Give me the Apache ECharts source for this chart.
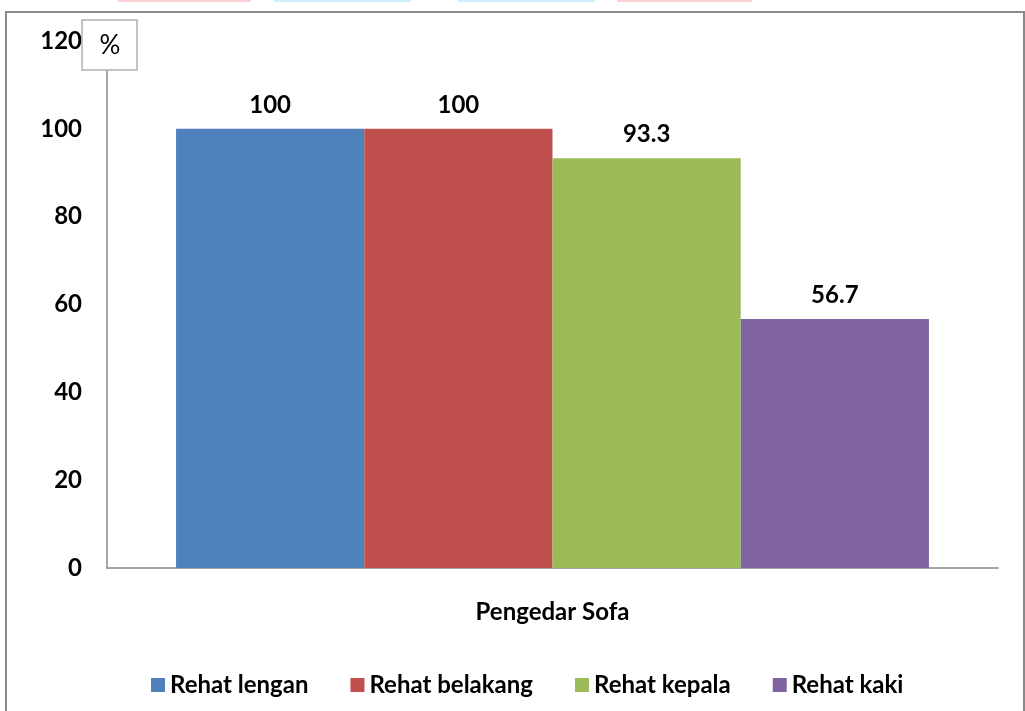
<!DOCTYPE html>
<html>
<head>
<meta charset="utf-8">
<style>
  html, body { margin: 0; padding: 0; background: #fff; }
  #chart { width: 1025px; height: 711px; }
</style>
<script src="https://cdn.jsdelivr.net/npm/echarts@6/dist/echarts.min.js"></script>
</head>
<body>
<div id="chart"></div>
<script>
// Category and series values
const categories = ['Pengedar Sofa'];
const seriesNames = ['Rehat lengan', 'Rehat belakang', 'Rehat kepala', 'Rehat kaki'];
const rehatLengan = [100];
const rehatBelakang = [100];
const rehatKepala = [93.3];
const rehatKaki = [56.7];
const yTicks = { min: 0, max: 120, interval: 20 };

const seriesValues = [rehatLengan, rehatBelakang, rehatKepala, rehatKaki];
const colors = ['#4F81BD', '#C0504D', '#9BBB59', '#8064A2'];
const FONT = 'Lato, "Open Sans", sans-serif';
const FS = 24;

const chart = echarts.init(document.getElementById('chart'));

chart.setOption({
  animation: false,
  backgroundColor: '#fff',
  color: colors,
  textStyle: { fontFamily: FONT },
  grid: { left: 107, right: 27, top: 41, bottom: 143 },
  legend: {
    top: 668,
    left: 146,
    itemWidth: 14,
    itemHeight: 14,
    itemGap: 42,
    icon: 'rect',
    textStyle: { fontSize: FS, fontWeight: 'bold', color: '#000', fontFamily: FONT },
    data: seriesNames
  },
  xAxis: {
    type: 'category',
    data: categories,
    axisLine: { lineStyle: { color: '#888', width: 1.5 } },
    axisTick: { show: false },
    axisLabel: { margin: 32, fontSize: FS, fontWeight: 'bold', color: '#000', fontFamily: FONT }
  },
  yAxis: {
    type: 'value',
    min: yTicks.min,
    max: yTicks.max,
    interval: yTicks.interval,
    axisLine: { show: true, lineStyle: { color: '#888', width: 1.5 } },
    axisTick: { show: false },
    splitLine: { show: false },
    axisLabel: { margin: 25, fontSize: FS, fontWeight: 'bold', color: '#000', fontFamily: FONT }
  },
  series: seriesNames.map((name, i) => ({
    name,
    type: 'bar',
    data: seriesValues[i],
    barGap: '0%',
    barCategoryGap: '15.5%',
    label: {
      show: true,
      position: 'top',
      distance: 12,
      fontSize: FS,
      fontWeight: 'bold',
      color: '#000',
      fontFamily: FONT
    }
  })),
  graphic: [
    // outer chart frame
    { type: 'rect', z: 10, silent: true, shape: { x: 6, y: 12, width: 1018, height: 720 },
      style: { fill: 'none', stroke: '#8a8a8a', lineWidth: 2 } },
    // faint tabs at the very top edge
    { type: 'rect', z: 10, silent: true, shape: { x: 118, y: 0, width: 133, height: 2 }, style: { fill: '#fbd0d4' } },
    { type: 'rect', z: 10, silent: true, shape: { x: 274, y: 0, width: 137, height: 2 }, style: { fill: '#cdeefc' } },
    { type: 'rect', z: 10, silent: true, shape: { x: 458, y: 0, width: 137, height: 2 }, style: { fill: '#cdeefc' } },
    { type: 'rect', z: 10, silent: true, shape: { x: 617, y: 0, width: 135, height: 2 }, style: { fill: '#fbd0d4' } },
    // unit box over the top of the value axis
    { type: 'rect', z: 20, silent: true, shape: { x: 82, y: 20, width: 55, height: 50 },
      style: { fill: '#fff', stroke: '#b0b0b0', lineWidth: 1.5 } },
    { type: 'text', z: 21, silent: true, x: 110, y: 46,
      style: { text: '%', fontSize: 26, fill: '#000', fontFamily: FONT, align: 'center', verticalAlign: 'middle' } }
  ]
});
</script>
</body>
</html>
